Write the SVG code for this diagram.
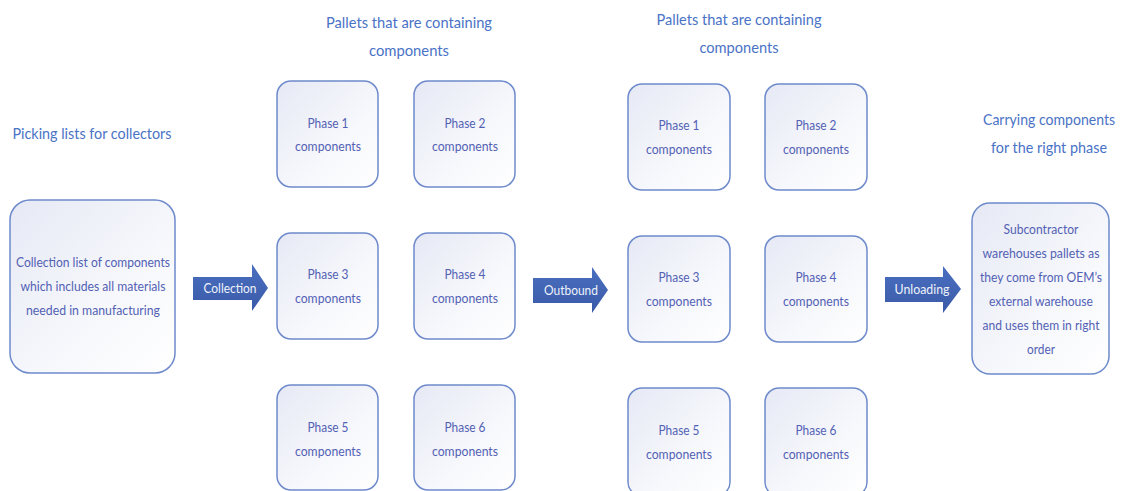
<svg xmlns="http://www.w3.org/2000/svg" width="1129" height="491" viewBox="0 0 1129 491">
  <defs>
    <linearGradient id="boxFill" x1="0" y1="0" x2="1" y2="1">
      <stop offset="0" stop-color="#e6e9f5"/>
      <stop offset="0.6" stop-color="#f7f8fc"/>
      <stop offset="1" stop-color="#ffffff"/>
    </linearGradient>
    <linearGradient id="arrowFill" x1="0" y1="0" x2="0" y2="1">
      <stop offset="0" stop-color="#4a6fc0"/>
      <stop offset="1" stop-color="#3a5aa8"/>
    </linearGradient>
  </defs>
  <style>
    .box { fill: url(#boxFill); stroke: #6e8acb; stroke-width: 1.5; }
    .arrow { fill: url(#arrowFill); }
    .title { font-family: Lato, "Liberation Sans", sans-serif; font-size: 16px; fill: #4a73c6; text-anchor: middle; }
    .label { font-family: Lato, "Liberation Sans", sans-serif; font-size: 13px; fill: #5261b4; text-anchor: middle; }
    .alabel { font-family: Lato, "Liberation Sans", sans-serif; font-size: 13.5px; fill: #eef2fb; text-anchor: middle; }
  </style>
  <rect width="1129" height="491" fill="#ffffff"/>

  <!-- column headings -->
  <g id="headings">
    <text class="title" x="92" y="139" textLength="159" lengthAdjust="spacingAndGlyphs">Picking lists for collectors</text>
    <text class="title" x="409" y="28" textLength="166" lengthAdjust="spacingAndGlyphs">Pallets that are containing</text>
    <text class="title" x="409" y="56" textLength="80" lengthAdjust="spacingAndGlyphs">components</text>
    <text class="title" x="739" y="25" textLength="165" lengthAdjust="spacingAndGlyphs">Pallets that are containing</text>
    <text class="title" x="739" y="53" textLength="79" lengthAdjust="spacingAndGlyphs">components</text>
    <text class="title" x="1049" y="125" font-size="14" textLength="132" lengthAdjust="spacingAndGlyphs">Carrying components</text>
    <text class="title" x="1049" y="153" textLength="116" lengthAdjust="spacingAndGlyphs">for the right phase</text>
  </g>

  <!-- picking list -->
  <g id="collection-list">
    <rect class="box" x="10" y="200" width="165" height="173" rx="20"/>
    <text class="label" x="93" y="267" textLength="154" lengthAdjust="spacingAndGlyphs">Collection list of components</text>
    <text class="label" x="93" y="291" textLength="145" lengthAdjust="spacingAndGlyphs">which includes all materials</text>
    <text class="label" x="93" y="315" textLength="134" lengthAdjust="spacingAndGlyphs">needed in manufacturing</text>
  </g>

  <!-- pallets after collection -->
  <g id="c1-phase1">
    <rect class="box" x="277" y="81" width="101" height="106" rx="14"/>
    <text class="label" x="328" y="128" textLength="41" lengthAdjust="spacingAndGlyphs">Phase 1</text>
    <text class="label" x="328" y="151" textLength="66" lengthAdjust="spacingAndGlyphs">components</text>
  </g>
  <g id="c1-phase2">
    <rect class="box" x="414" y="81" width="101" height="106" rx="14"/>
    <text class="label" x="465" y="128" textLength="41" lengthAdjust="spacingAndGlyphs">Phase 2</text>
    <text class="label" x="465" y="151" textLength="66" lengthAdjust="spacingAndGlyphs">components</text>
  </g>
  <g id="c1-phase3">
    <rect class="box" x="277" y="233" width="101" height="106" rx="14"/>
    <text class="label" x="328" y="279" textLength="41" lengthAdjust="spacingAndGlyphs">Phase 3</text>
    <text class="label" x="328" y="303" textLength="66" lengthAdjust="spacingAndGlyphs">components</text>
  </g>
  <g id="c1-phase4">
    <rect class="box" x="414" y="233" width="101" height="106" rx="14"/>
    <text class="label" x="465" y="279" textLength="41" lengthAdjust="spacingAndGlyphs">Phase 4</text>
    <text class="label" x="465" y="303" textLength="66" lengthAdjust="spacingAndGlyphs">components</text>
  </g>
  <g id="c1-phase5">
    <rect class="box" x="277" y="385" width="101" height="105" rx="14"/>
    <text class="label" x="328" y="432" textLength="41" lengthAdjust="spacingAndGlyphs">Phase 5</text>
    <text class="label" x="328" y="456" textLength="66" lengthAdjust="spacingAndGlyphs">components</text>
  </g>
  <g id="c1-phase6">
    <rect class="box" x="414" y="385" width="101" height="105" rx="14"/>
    <text class="label" x="465" y="432" textLength="41" lengthAdjust="spacingAndGlyphs">Phase 6</text>
    <text class="label" x="465" y="456" textLength="66" lengthAdjust="spacingAndGlyphs">components</text>
  </g>

  <!-- pallets after outbound -->
  <g id="c2-phase1">
    <rect class="box" x="628" y="84" width="102" height="106" rx="14"/>
    <text class="label" x="679" y="130" textLength="41" lengthAdjust="spacingAndGlyphs">Phase 1</text>
    <text class="label" x="679" y="154" textLength="66" lengthAdjust="spacingAndGlyphs">components</text>
  </g>
  <g id="c2-phase2">
    <rect class="box" x="765" y="84" width="102" height="106" rx="14"/>
    <text class="label" x="816" y="130" textLength="41" lengthAdjust="spacingAndGlyphs">Phase 2</text>
    <text class="label" x="816" y="154" textLength="66" lengthAdjust="spacingAndGlyphs">components</text>
  </g>
  <g id="c2-phase3">
    <rect class="box" x="628" y="236" width="102" height="106" rx="14"/>
    <text class="label" x="679" y="282" textLength="41" lengthAdjust="spacingAndGlyphs">Phase 3</text>
    <text class="label" x="679" y="306" textLength="66" lengthAdjust="spacingAndGlyphs">components</text>
  </g>
  <g id="c2-phase4">
    <rect class="box" x="765" y="236" width="102" height="106" rx="14"/>
    <text class="label" x="816" y="282" textLength="41" lengthAdjust="spacingAndGlyphs">Phase 4</text>
    <text class="label" x="816" y="306" textLength="66" lengthAdjust="spacingAndGlyphs">components</text>
  </g>
  <g id="c2-phase5">
    <rect class="box" x="628" y="388" width="102" height="108" rx="14"/>
    <text class="label" x="679" y="435" textLength="41" lengthAdjust="spacingAndGlyphs">Phase 5</text>
    <text class="label" x="679" y="459" textLength="66" lengthAdjust="spacingAndGlyphs">components</text>
  </g>
  <g id="c2-phase6">
    <rect class="box" x="765" y="388" width="102" height="108" rx="14"/>
    <text class="label" x="816" y="435" textLength="41" lengthAdjust="spacingAndGlyphs">Phase 6</text>
    <text class="label" x="816" y="459" textLength="66" lengthAdjust="spacingAndGlyphs">components</text>
  </g>

  <!-- subcontractor -->
  <g id="subcontractor">
    <rect class="box" x="972" y="203" width="137" height="171" rx="18"/>
    <text class="label" x="1041" y="234" textLength="75" lengthAdjust="spacingAndGlyphs">Subcontractor</text>
    <text class="label" x="1041" y="258" textLength="117" lengthAdjust="spacingAndGlyphs">warehouses pallets as</text>
    <text class="label" x="1041" y="282" textLength="122" lengthAdjust="spacingAndGlyphs">they come from OEM’s</text>
    <text class="label" x="1041" y="306" textLength="104" lengthAdjust="spacingAndGlyphs">external warehouse</text>
    <text class="label" x="1041" y="330" textLength="117" lengthAdjust="spacingAndGlyphs">and uses them in right</text>
    <text class="label" x="1041" y="354" textLength="28" lengthAdjust="spacingAndGlyphs">order</text>
  </g>

  <!-- block arrows between stages -->
  <g id="connectors">
    <g id="arrow-collection">
      <path class="arrow" d="M193,277 H252 V264 L268,288 L252,311 V300 H193 Z"/>
      <text class="alabel" x="230" y="293" textLength="53" lengthAdjust="spacingAndGlyphs">Collection</text>
    </g>
    <g id="arrow-outbound">
      <path class="arrow" d="M533,278 H592 V267 L608,290 L592,313 V303 H533 Z"/>
      <text class="alabel" x="571" y="295" textLength="54" lengthAdjust="spacingAndGlyphs">Outbound</text>
    </g>
    <g id="arrow-unloading">
      <path class="arrow" d="M885,277 H943 V266 L961,289 L943,313 V302 H885 Z"/>
      <text class="alabel" x="922" y="294" textLength="55" lengthAdjust="spacingAndGlyphs">Unloading</text>
    </g>
  </g>
</svg>
